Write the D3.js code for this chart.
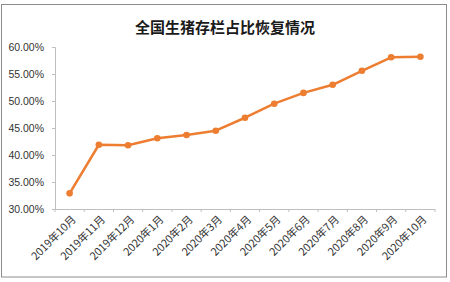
<!DOCTYPE html>
<html><head><meta charset="utf-8">
<script src="https://cdn.jsdelivr.net/npm/d3@7"></script>
<style>body{margin:0;background:#fff}svg{display:block}</style>
</head><body>
<svg id="c" width="450" height="282"></svg>
<script>
const categories = ["2019年10月","2019年11月","2019年12月","2020年1月","2020年2月","2020年3月","2020年4月","2020年5月","2020年6月","2020年7月","2020年8月","2020年9月","2020年10月"];
const values = [32.9, 41.9, 41.8, 43.1, 43.7, 44.5, 46.9, 49.5, 51.5, 53.0, 55.6, 58.1, 58.2];
const yTicks = [30,35,40,45,50,55,60];
const title = "全国生猪存栏占比恢复情况";

const svg = d3.select("#c");
const L = 55, R = 435, T = 47, B = 209;
const fontFam = "'Liberation Sans', Arial, 'Noto Sans CJK SC', sans-serif";

svg.append("rect").attr("x",1.5).attr("y",4.5).attr("width",445).attr("height",272.5)
  .attr("fill","#fff").attr("stroke","#8c8c8c").attr("stroke-width",1);

svg.append("text").attr("x",225).attr("y",33).attr("text-anchor","middle")
  .attr("font-family","'Noto Sans CJK SC', sans-serif").attr("font-weight","bold")
  .attr("font-size",15).attr("fill","#1a1a1a").text(title);

const x = d3.scaleBand().domain(categories).range([L,R]).padding(0);
const y = d3.scaleLinear().domain([30,60]).range([B,T]);

const yAxis = d3.axisLeft(y).tickValues(yTicks).tickSize(3).tickPadding(8)
  .tickFormat(d => d3.format(".2f")(d) + "%");
const gy = svg.append("g").attr("transform",`translate(${L},0)`).call(yAxis);
gy.select(".domain").attr("stroke","#bfbfbf");
gy.selectAll(".tick line").attr("stroke","#bfbfbf");
gy.selectAll(".tick text").attr("font-family",fontFam).attr("font-size",10.5).attr("fill","#333");

const gx = svg.append("g").attr("transform",`translate(0,${B})`);
gx.append("line").attr("x1",L).attr("x2",R).attr("y1",0.5).attr("y2",0.5).attr("stroke","#bfbfbf");
const bounds = categories.map(c => x(c)).concat([R]);
gx.selectAll("line.tk").data(bounds).enter().append("line").attr("class","tk")
  .attr("x1",d=>d).attr("x2",d=>d).attr("y1",0).attr("y2",3).attr("stroke","#bfbfbf");
gx.selectAll("text").data(categories).enter().append("text")
  .attr("transform",d=>`translate(${x(d)+x.bandwidth()/2+5},${9}) rotate(-45)`)
  .attr("text-anchor","end").attr("dominant-baseline","middle")
  .attr("font-family","'Noto Sans CJK SC', sans-serif").attr("font-size",10.8).attr("fill","#333")
  .text(d=>d);

const cx = d => x(d) + x.bandwidth()/2;
const line = d3.line().x((d,i)=>cx(categories[i])).y(d=>y(d));
svg.append("path").datum(values).attr("d",line).attr("fill","none")
  .attr("stroke","#ED7D31").attr("stroke-width",2.5).attr("stroke-linejoin","round");
svg.selectAll("circle.pt").data(values).enter().append("circle").attr("class","pt")
  .attr("cx",(d,i)=>cx(categories[i])).attr("cy",d=>y(d)).attr("r",3.3).attr("fill","#ED7D31");
</script>
</body></html>
